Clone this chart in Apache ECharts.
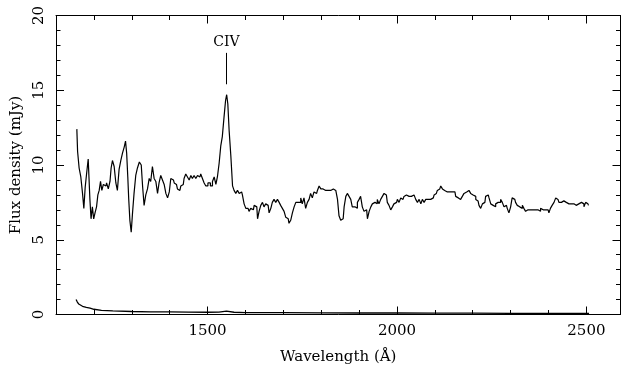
<!DOCTYPE html>
<html>
<head>
<meta charset="utf-8">
<script src="https://cdn.jsdelivr.net/npm/echarts@6/dist/echarts.min.js"></script>
<style>html,body{margin:0;padding:0;background:#fff;}#c{width:623px;height:374px;}</style>
</head>
<body>
<div id="c"></div>
<script>
const wavelength = [1155,1159,1163,1168,1172,1175,1179,1184,1186,1188,1191,1194,1198,1201,1205,1209,1212,1216,1219,1223,1227,1232,1235,1241,1244,1247,1251,1256,1260,1264,1269,1273,1278,1282,1285,1288,1291,1293,1297,1300,1304,1308,1313,1317,1323,1327,1330,1335,1339,1344,1348,1352,1357,1361,1366,1370,1374,1379,1383,1388,1392,1397,1401,1405,1410,1414,1418,1423,1427,1432,1436,1440,1445,1449,1454,1458,1462,1467,1471,1476,1480,1484,1489,1493,1498,1504,1511,1515,1520,1524,1528,1533,1537,1541,1546,1549,1552,1555,1559,1564,1568,1572,1577,1581,1586,1590,1594,1599,1603,1607,1612,1616,1621,1625,1630,1634,1638,1643,1647,1651,1656,1660,1665,1669,1673,1678,1682,1687,1691,1695,1700,1704,1709,1713,1717,1722,1726,1731,1735,1739,1744,1748,1752,1757,1761,1766,1770,1774,1779,1783,1788,1792,1797,1801,1805,1810,1814,1818,1823,1827,1832,1836,1841,1845,1849,1854,1858,1863,1867,1871,1876,1880,1884,1889,1893,1898,1902,1906,1911,1915,1920,1924,1929,1933,1937,1942,1946,1950,1955,1959,1964,1968,1972,1977,1981,1986,1990,1994,1999,2003,2008,2012,2016,2021,2025,2030,2034,2038,2043,2047,2052,2056,2061,2065,2069,2074,2078,2082,2087,2091,2096,2100,2104,2109,2113,2118,2122,2126,2131,2135,2140,2144,2149,2153,2157,2162,2166,2170,2175,2179,2184,2188,2192,2197,2201,2206,2210,2214,2219,2223,2228,2232,2236,2241,2245,2250,2254,2258,2263,2267,2271,2276,2280,2285,2289,2293,2298,2302,2306,2311,2315,2320,2324,2329,2333,2337,2342,2346,2351,2355,2359,2364,2368,2372,2377,2381,2386,2390,2394,2399,2403,2407,2412,2417,2421,2425,2430,2434,2438,2443,2447,2452,2456,2460,2465,2469,2473,2478,2482,2487,2491,2496,2500,2504,2507];
const flux = [12.4,10.9,9.8,9.2,8.1,7.1,8.5,9.6,10.4,9.2,7.7,6.4,7.2,6.4,6.8,7.2,8.0,8.3,8.9,8.3,8.7,8.6,8.8,8.4,8.9,9.8,10.3,9.9,8.8,8.3,9.7,10.3,10.8,11.2,11.6,10.8,9.2,7.7,6.3,5.5,6.8,8.1,9.3,9.8,10.2,10.0,8.6,7.3,8.0,8.4,9.1,8.9,9.9,9.1,8.9,8.1,8.8,9.3,9.0,8.7,8.1,7.8,8.2,9.1,9.0,8.8,8.7,8.4,8.3,8.6,8.7,9.1,9.4,9.2,9.0,9.3,9.1,9.3,9.1,9.3,9.2,9.4,9.1,8.8,8.6,8.8,8.6,8.9,9.2,8.7,9.2,10.1,11.3,11.9,13.2,14.3,14.7,14.1,12.3,10.6,8.6,8.3,8.1,8.3,8.1,8.2,8.0,7.4,7.1,7.1,6.9,7.1,7.0,7.3,7.2,6.4,6.9,7.3,7.5,7.2,7.4,7.3,6.8,7.1,7.5,7.7,7.5,7.7,7.5,7.3,7.1,6.9,6.5,6.4,6.1,6.3,6.8,7.2,7.5,7.5,7.5,7.8,7.4,7.8,7.1,7.5,7.7,8.1,7.8,8.2,8.1,8.3,8.6,8.4,8.4,8.3,8.4,8.3,8.3,8.4,8.4,8.3,8.2,7.7,6.6,6.3,6.4,7.2,7.9,8.1,7.9,7.7,7.2,7.2,7.1,7.5,7.7,7.9,7.2,6.9,7.0,6.4,6.9,7.2,7.4,7.5,7.4,7.7,7.4,7.7,7.9,8.1,8.0,7.5,7.3,7.0,7.2,7.4,7.5,7.7,7.5,7.8,7.7,7.9,8.0,7.9,7.8,7.9,8.0,7.9,7.7,7.5,7.7,7.4,7.7,7.5,7.7,7.7,7.7,7.8,7.8,8.0,8.1,8.3,8.4,8.6,8.4,8.3,8.2,8.3,8.2,8.2,8.1,8.2,7.9,7.8,7.7,7.8,7.9,8.1,8.2,8.3,8.2,8.1,8.0,7.9,7.7,7.6,7.3,7.1,7.4,7.5,7.9,8.0,7.8,7.4,7.3,7.2,7.4,7.5,7.5,7.7,7.5,7.2,7.3,7.1,6.8,7.2,7.8,7.7,7.5,7.3,7.2,7.1,7.3,7.1,6.9,7.0,7.0,7.1,7.0,7.0,7.1,7.0,6.9,7.1,7.0,7.0,7.1,7.0,6.8,7.1,7.3,7.5,7.8,7.7,7.5,7.5,7.6,7.5,7.5,7.4,7.3,7.4,7.4,7.5,7.3,7.4,7.5,7.5,7.4,7.2,7.5,7.4,7.3];
const errWavelength = [1153,1156,1160,1165,1170,1180,1190,1200,1220,1250,1300,1350,1400,1450,1500,1530,1550,1570,1600,1700,1800,1900,2000,2100,2200,2300,2400,2500,2507];
const errFlux = [1.0,0.85,0.7,0.6,0.55,0.48,0.42,0.35,0.28,0.24,0.2,0.18,0.17,0.16,0.15,0.16,0.22,0.15,0.13,0.12,0.11,0.1,0.1,0.09,0.09,0.08,0.08,0.08,0.08];
const xMajorTicks = [1500,2000,2500];
const xMinorTicks = [1200,1300,1400,1600,1700,1800,1900,2100,2200,2300,2400,2500];
const yMajorTicks = [0,5,10,15,20];
const yMinorTicks = [1,2,3,4,6,7,8,9,11,12,13,14,16,17,18,19];
const lineLabel = 'CIV';
const lineX = 1550, lineY0 = 15.4, lineY1 = 17.5;

const FONT = 'DejaVu Serif';
const X_MIN = 1100, X_MAX = 2590, Y_MIN = 0, Y_MAX = 20;
const chart = echarts.init(document.getElementById('c'), null, {renderer: 'canvas'});

function xAxisDef(pos, ticks, len, showLine, showLabel, name) {
  return {
    type: 'value', position: pos, min: X_MIN, max: X_MAX,
    splitLine: {show: false},
    axisLine: {show: showLine, onZero: false, lineStyle: {color: '#000', width: 1}},
    axisTick: {show: true, inside: true, length: len, customValues: ticks, lineStyle: {color: '#000', width: 1}},
    axisLabel: showLabel ? {show: true, customValues: ticks, formatter: v => String(v), margin: 9, color: '#000', fontFamily: FONT, fontSize: 15} : {show: false},
    name: name || '', nameLocation: 'middle', nameGap: 35,
    nameTextStyle: {color: '#000', fontFamily: FONT, fontSize: 15}
  };
}
function yAxisDef(pos, ticks, len, showLine, showLabel, name) {
  return {
    type: 'value', position: pos, min: Y_MIN, max: Y_MAX,
    splitLine: {show: false},
    axisLine: {show: showLine, onZero: false, lineStyle: {color: '#000', width: 1}},
    axisTick: {show: true, inside: true, length: len, customValues: ticks, lineStyle: {color: '#000', width: 1}},
    axisLabel: showLabel ? {show: true, customValues: ticks, formatter: v => String(v), rotate: 90, margin: 9, color: '#000', fontFamily: FONT, fontSize: 15} : {show: false},
    name: name || '', nameLocation: 'middle', nameGap: 31, nameRotate: 90,
    nameTextStyle: {color: '#000', fontFamily: FONT, fontSize: 15}
  };
}

const option = {
  animation: false,
  backgroundColor: '#fff',
  grid: {left: 56, right: 2.5, top: 15.5, bottom: 59.5, containLabel: false},
  xAxis: [
    xAxisDef('bottom', xMajorTicks, 8, true, true, 'Wavelength (\u00C5)'),
    xAxisDef('bottom', xMinorTicks, 4.5, false, false),
    xAxisDef('top', xMajorTicks, 8, true, false),
    xAxisDef('top', xMinorTicks, 4.5, false, false)
  ],
  yAxis: [
    yAxisDef('left', yMajorTicks, 8, true, true, 'Flux density (mJy)'),
    yAxisDef('left', yMinorTicks, 4.5, false, false),
    yAxisDef('right', yMajorTicks, 8, true, false),
    yAxisDef('right', yMinorTicks, 4.5, false, false)
  ],
  series: [
    {
      type: 'line', xAxisIndex: 0, yAxisIndex: 0,
      data: wavelength.map((w, i) => [w, flux[i]]),
      step: 'middle',
      showSymbol: false, symbol: 'none',
      lineStyle: {color: '#000', width: 1.2},
      silent: true,
      markLine: {
        silent: true, symbol: ['none', 'none'], animation: false,
        lineStyle: {color: '#000', width: 1, type: 'solid'},
        label: {show: true, position: 'end', formatter: lineLabel, distance: 4, color: '#000', fontFamily: FONT, fontSize: 14},
        data: [[{coord: [lineX, lineY0]}, {coord: [lineX, lineY1]}]]
      }
    },
    {
      type: 'line', xAxisIndex: 0, yAxisIndex: 0,
      data: errWavelength.map((w, i) => [w, errFlux[i]]),
      showSymbol: false, symbol: 'none',
      lineStyle: {color: '#000', width: 1.3},
      silent: true
    }
  ]
};
chart.setOption(option);
</script>
</body>
</html>
